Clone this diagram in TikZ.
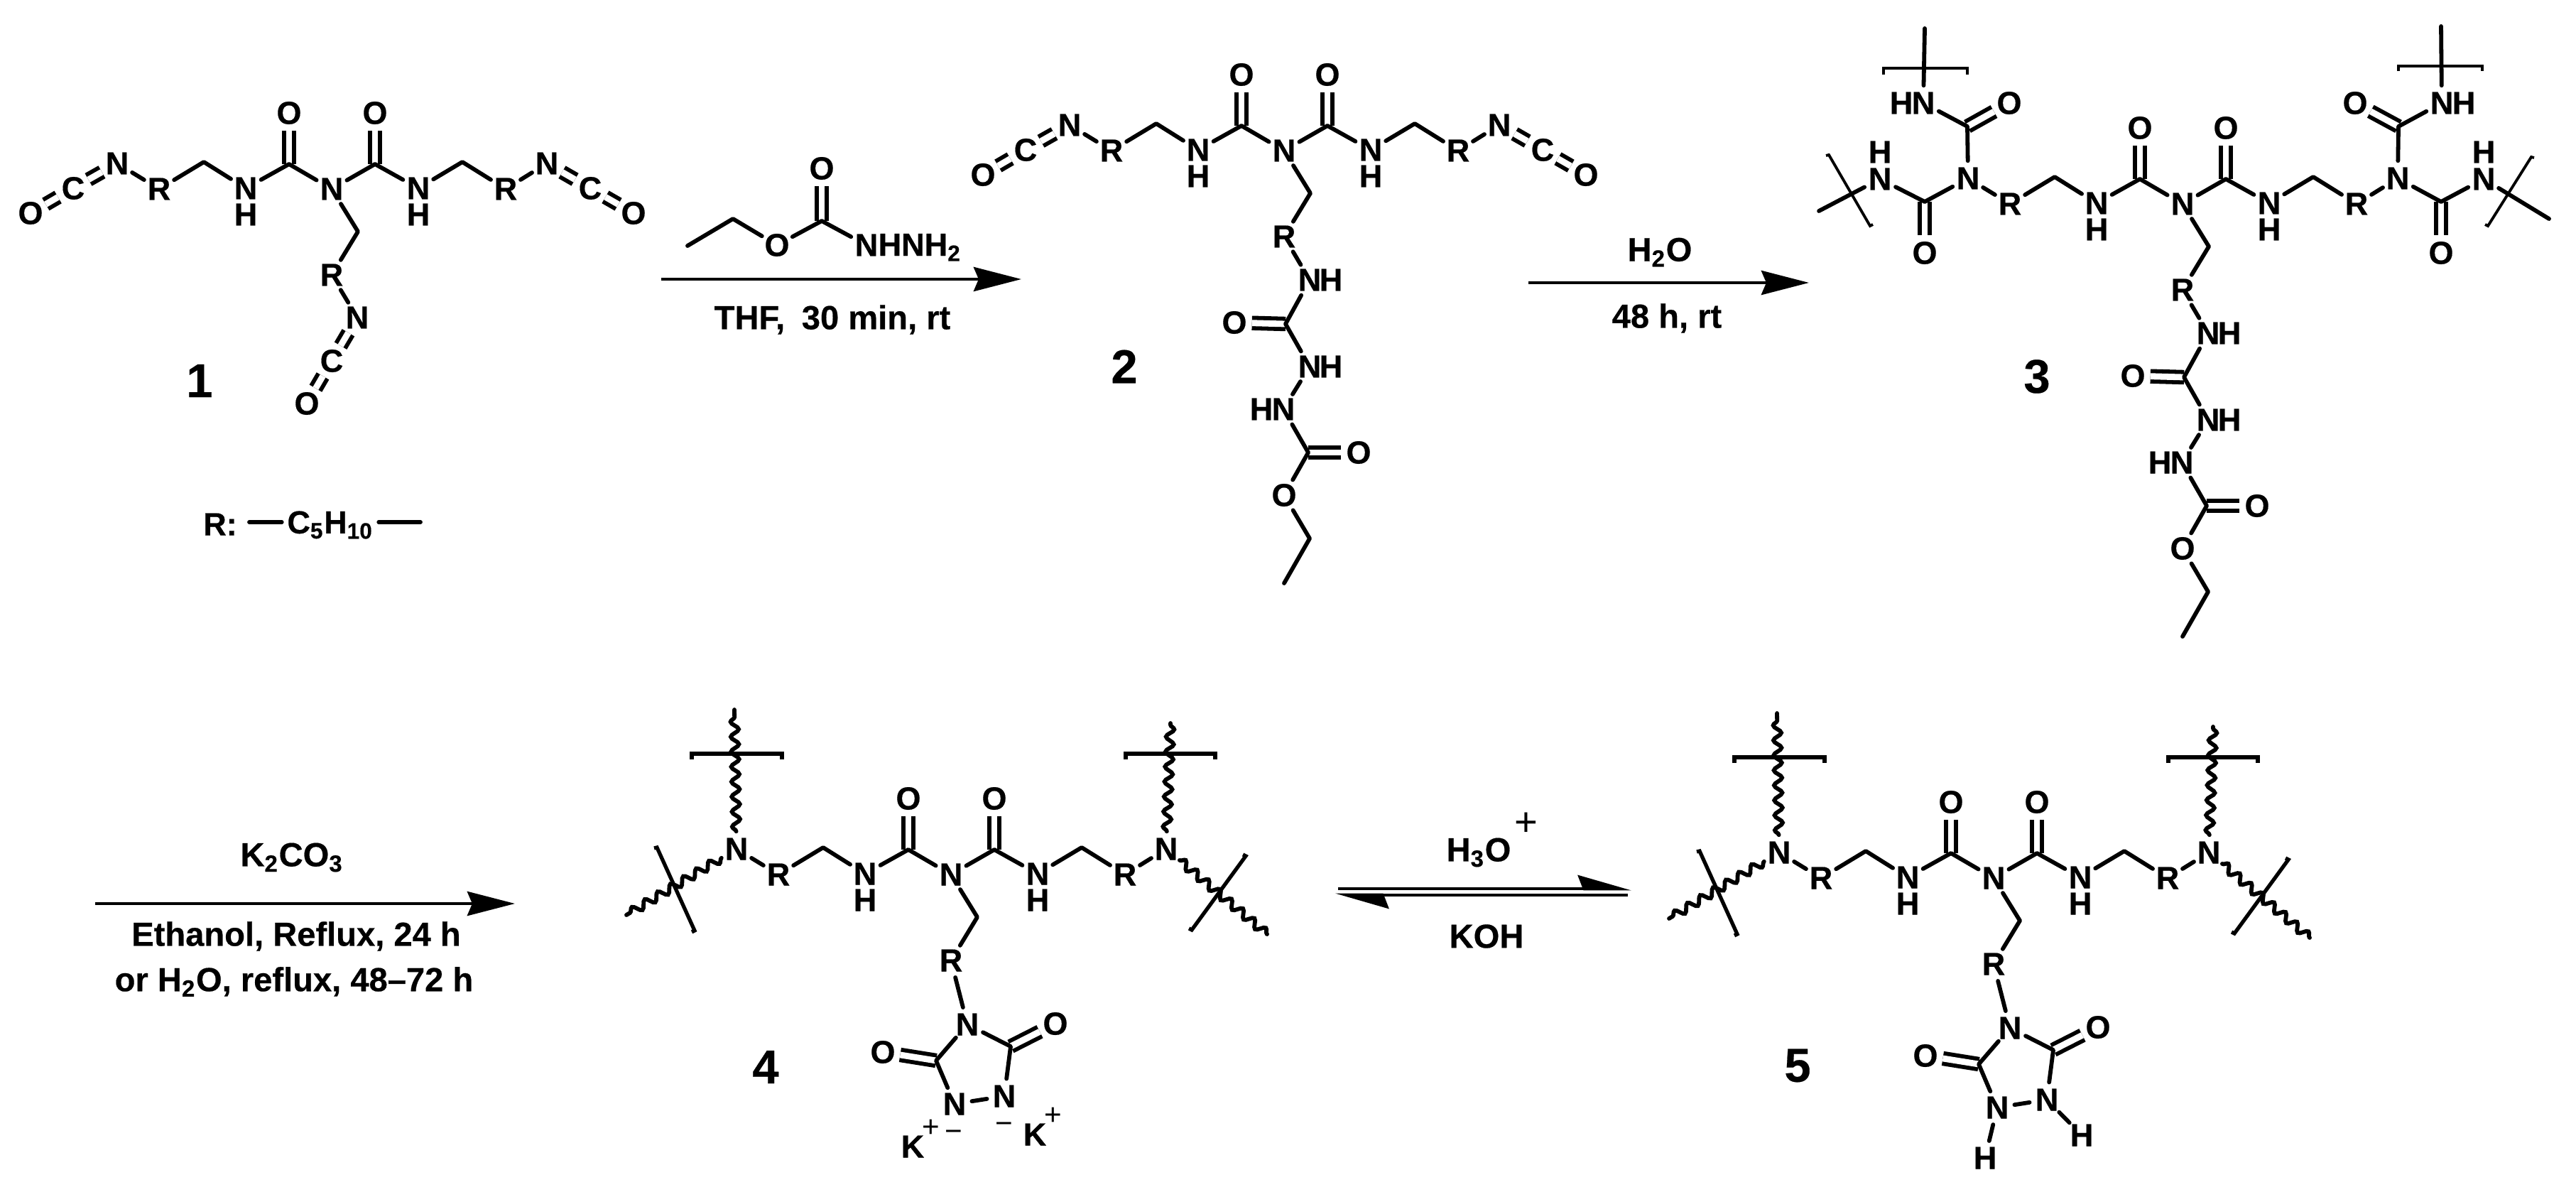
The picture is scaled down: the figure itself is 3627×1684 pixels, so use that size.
\documentclass[tikz,border=0pt]{standalone}
\usepackage{fontspec}
\usepackage{tikz}
\setmainfont{Liberation Sans}[BoldFeatures={FakeBold=0.4}]
\usetikzlibrary{positioning,arrows.meta,decorations.pathmorphing}

\tikzset{
  atom/.style={circle,inner sep=0pt,minimum size=0.48cm,font=\fontsize{12.8pt}{14pt}\selectfont\bfseries},
  bond/.style={line width=1.65pt,line cap=round,line join=round},
  dbond/.style={line width=1.65pt,double,double distance=2.5pt},
  wavy/.style={line width=1.65pt,line cap=round,decorate,decoration={snake,amplitude=1.6pt,segment length=6pt}},
  brk/.style={line width=1.5pt},
  thinbrk/.style={line width=1.1pt},
  reagent/.style={inner sep=0pt,font=\fontsize{13.4pt}{16pt}\selectfont\bfseries},
  cnum/.style={inner sep=0pt,font=\fontsize{19pt}{22pt}\selectfont\bfseries},
  chg/.style={inner sep=0pt,font=\fontsize{12pt}{14pt}\selectfont},
  rxn/.style={line width=1.35pt,-{Stealth[length=0.67cm,width=0.34cm,inset=0.07cm]}},
  eqm/.style={line width=1.35pt,-{Stealth[harpoon,length=0.67cm,width=0.38cm,inset=0.07cm]}}
}

% Central unit, shared by all five structures
\newcommand{\ureacore}[1]{
  \node[atom] (#1Nl) at (-302,-36) {N};
  \node[atom] (#1Rl) at (-243,0) {R};
  \coordinate (#1cl) at (-180,-38);
  \node[atom] (#1NHl) at (-121,-1) {N};
  \node[atom] (#1Hl) at (-121,36) {H};
  \coordinate (#1Cl) at (-60,-35);
  \node[atom] (#1Ol) at (-60,-107) {O};
  \node[atom] (#1N) at (0,0) {N};
  \coordinate (#1Cr) at (61,-35);
  \node[atom] (#1Or) at (61,-107) {O};
  \node[atom] (#1NHr) at (122,-1) {N};
  \node[atom] (#1Hr) at (122,36) {H};
  \coordinate (#1cr) at (184,-38);
  \node[atom] (#1Rr) at (245,0) {R};
  \node[atom] (#1Nr) at (303,-36) {N};
  \coordinate (#1cd) at (37,60);
  \node[atom] (#1Rd) at (0,121) {R};
  \draw[dbond] (#1Cl) -- (#1Ol);
  \draw[dbond] (#1Cr) -- (#1Or);
  \draw[bond] (#1Nl) -- (#1Rl) -- (#1cl) -- (#1NHl) -- (#1Cl) -- (#1N) -- (#1Cr) -- (#1NHr) -- (#1cr) -- (#1Rr) -- (#1Nr);
  \draw[bond] (#1N) -- (#1cd) -- (#1Rd);
}

% Isocyanate end: name, nitrogen, carbon position, oxygen position
\newcommand{\isocyanate}[4]{
  \node[atom] (#1C) at (#3) {C};
  \node[atom] (#1O) at (#4) {O};
  \draw[dbond] (#2) -- (#1C);
  \draw[dbond] (#1C) -- (#1O);
}

% Side chain of structures 2 and 3
\newcommand{\carbazate}[1]{
  \node[atom] (#1Na) at (36,182) {N};
  \node[atom] (#1Ha) at (66,182) {H};
  \coordinate (#1Ca) at (2,244);
  \node[atom] (#1Oa) at (-70,242) {O};
  \node[atom] (#1Nb) at (36,304) {N};
  \node[atom] (#1Hb) at (66,304) {H};
  \node[atom] (#1Nc) at (-1,364) {N};
  \node[atom] (#1Hc) at (-32,364) {H};
  \coordinate (#1Cb) at (34,425);
  \node[atom] (#1Ob) at (105,425) {O};
  \node[atom] (#1Oc) at (0,485) {O};
  \coordinate (#1ce) at (36,546);
  \coordinate (#1me) at (0,609);
  \draw[dbond] (#1Ca) -- (#1Oa);
  \draw[dbond] (#1Cb) -- (#1Ob);
  \draw[bond] (#1Rd) -- (#1Na) -- (#1Ca) -- (#1Nb) -- (#1Nc) -- (#1Cb) -- (#1Oc) -- (#1ce) -- (#1me);
}

% Ring of structures 4 and 5
\newcommand{\urazole}[1]{
  \node[atom] (#1Nt) at (23,211) {N};
  \coordinate (#1Cu) at (-21,262);
  \coordinate (#1Cv) at (84,242);
  \node[atom] (#1Ou) at (-96,250) {O};
  \node[atom] (#1Ov) at (147,210) {O};
  \node[atom] (#1Nu) at (5,323) {N};
  \node[atom] (#1Nv) at (75,312) {N};
  \draw[dbond] (#1Cu) -- (#1Ou);
  \draw[dbond] (#1Cv) -- (#1Ov);
  \draw[bond] (#1Rd) -- (#1Nt) -- (#1Cu) -- (#1Nu) -- (#1Nv) -- (#1Cv) -- (#1Nt);
}

% Wavy cross-links and brackets of structures 4 and 5
\newcommand{\wavyarms}[1]{
  \coordinate (#1wa) at (-305,-232);
  \coordinate (#1wb) at (-457,57);
  \coordinate (#1wc) at (309,-213);
  \coordinate (#1wd) at (445,84);
  \draw[wavy] (#1Nl) -- (#1wa);
  \draw[wavy] (#1Nl) -- (#1wb);
  \draw[wavy] (#1Nr) -- (#1wc);
  \draw[wavy] (#1Nr) -- (#1wd);
  \draw[brk] (-365,-162) -- (-365,-170) -- (-238,-170) -- (-238,-162);
  \draw[brk] (246,-162) -- (246,-170) -- (372,-170) -- (372,-162);
  \draw[brk] (-418,-37) -- (-414,-38) -- (-361,79) -- (-365,81);
  \draw[brk] (411,-28) -- (415,-26) -- (339,78) -- (335,76);
}

\begin{document}
\begin{tikzpicture}[x=0.01cm,y=-0.01cm]
    \useasboundingbox (0,0) rectangle (3627,1684);

    % Draw structure 1
    \begin{scope}[shift={(467,266)}]
        \ureacore{a}
        \isocyanate{al}{aNl}{-364,-1}{-424,34}
        \isocyanate{ar}{aNr}{364,-1}{425,34}
        \node[atom] (aNd) at (36,181) {N};
        \isocyanate{ad}{aNd}{0,242}{-35,302}
        \draw[bond] (aRd) -- (aNd);
    \end{scope}
    \node[cnum] (one) at (281,536) {1};

    % Draw R legend
    \node[atom] (rlabel) at (310,738) {R:};
    \node[atom,rectangle,inner sep=2pt] (rgroup) at (465,739) {C\textsubscript{5}H\textsubscript{10}};
    \coordinate (rleft) at (351,735);
    \coordinate (rright) at (592,735);
    \draw[bond] (rleft) -- (rleft -| rgroup.west);
    \draw[bond] (rright -| rgroup.east) -- (rright);

    % Draw ethyl carbazate over first arrow
    \coordinate (ema) at (968,346);
    \coordinate (emb) at (1032,308);
    \node[atom] (emo) at (1094,345) {O};
    \coordinate (emc) at (1157,311);
    \node[atom] (emd) at (1157,237) {O};
    \node[atom] (emn) at (1220,345) {N};
    \node[reagent,anchor=base west,font=\fontsize{12.8pt}{14pt}\selectfont\bfseries] (emh) at (1236,360) {HNH\textsubscript{2}};
    \draw[dbond] (emc) -- (emd);
    \draw[bond] (ema) -- (emb) -- (emo) -- (emc) -- (emn);

    % Draw first arrow
    \coordinate (aa) at (931,393);
    \coordinate (ab) at (1438,393);
    \draw[rxn] (aa) -- (ab);
    \node[reagent] (thf) at (1172,450) {THF,\kern3pt\ 30 min, rt};

    % Draw structure 2
    \begin{scope}[shift={(1808,212)}]
        \ureacore{b}
        \isocyanate{bl}{bNl}{-364,-1}{-424,34}
        \isocyanate{br}{bNr}{364,-1}{425,34}
        \carbazate{b}
    \end{scope}
    \node[cnum] (two) at (1583,516) {2};

    % Draw second arrow
    \coordinate (ba) at (2152,398);
    \coordinate (bb) at (2547,398);
    \draw[rxn] (ba) -- (bb);
    \node[reagent] (water) at (2337,355) {H\textsubscript{2}O};
    \node[reagent] (hours) at (2347,448) {48 h, rt};

    % Draw structure 3
    \begin{scope}[shift={(3073,287)}]
        \ureacore{c}
        \carbazate{c}
        % left arm
        \coordinate (cCa) at (-303,-109);
        \node[atom] (cOa) at (-244,-142) {O};
        \node[atom] (cNa) at (-365,-142) {N};
        \node[atom] (cHa) at (-396,-142) {H};
        \coordinate (cCd) at (-363,-3);
        \node[atom] (cOd) at (-363,69) {O};
        \node[atom] (cNf) at (-426,-35) {N};
        \node[atom] (cHf) at (-426,-73) {H};
        \coordinate (csa) at (-363,-247);
        \coordinate (csb) at (-512,10);
        \draw[dbond] (cCa) -- (cOa);
        \draw[dbond] (cCd) -- (cOd);
        \draw[bond] (csa) -- (cNa) -- (cCa) -- (cNl) -- (cCd) -- (cNf) -- (csb);
        \draw[thinbrk] (-421,-182) -- (-421,-191) -- (-303,-191) -- (-303,-182);
        \draw[thinbrk] (-502,-68) -- (-498,-69) -- (-440,31) -- (-436,29);
        % right arm
        \coordinate (cCb) at (304,-109);
        \node[atom] (cOe) at (243,-142) {O};
        \node[atom] (cNg) at (365,-142) {N};
        \node[atom] (cHg) at (396,-142) {H};
        \coordinate (cCe) at (364,-3);
        \node[atom] (cOf) at (364,69) {O};
        \node[atom] (cNh) at (424,-35) {N};
        \node[atom] (cHh) at (424,-73) {H};
        \coordinate (csc) at (364,-250);
        \coordinate (csd) at (516,21);
        \draw[dbond] (cCb) -- (cOe);
        \draw[dbond] (cCe) -- (cOf);
        \draw[bond] (csc) -- (cNg) -- (cCb) -- (cNr) -- (cCe) -- (cNh) -- (csd);
        \draw[thinbrk] (304,-187) -- (304,-194) -- (422,-194) -- (422,-187);
        \draw[thinbrk] (495,-65) -- (491,-66) -- (430,31) -- (426,29);
    \end{scope}
    \node[cnum] (three) at (2868,530) {3};

    % Draw third arrow
    \coordinate (ca) at (134,1272);
    \coordinate (cb) at (725,1272);
    \draw[rxn] (ca) -- (cb);
    \node[reagent] (base) at (411,1207) {K\textsubscript{2}CO\textsubscript{3}};
    \node[reagent] (ethanol) at (417,1318) {Ethanol, Reflux, 24 h};
    \node[reagent] (reflux) at (414,1382) {or H\textsubscript{2}O, reflux, 48--72 h};

    % Draw structure 4
    \begin{scope}[shift={(1339,1231)}]
        \ureacore{d}
        \wavyarms{d}
        \urazole{d}
        \node[atom] (dKa) at (-54,383) {K};
        \node[chg] (dpa) at (-28,357) {+};
        \node[chg] (dma) at (4,368) {−};
        \node[chg] (dmb) at (75,357) {−};
        \node[atom] (dKb) at (118,366) {K};
        \node[chg] (dpb) at (144,340) {+};
    \end{scope}
    \node[cnum] (four) at (1078,1502) {4};

    % Draw equilibrium arrows
    \coordinate (ea) at (1884,1251);
    \coordinate (eb) at (2297,1251);
    \coordinate (ec) at (2292,1260);
    \coordinate (ed) at (1880,1260);
    \draw[eqm] (ea) -- (eb);
    \draw[eqm] (ec) -- (ed);
    \node[reagent] (acid) at (2082,1200) {H\textsubscript{3}O};
    \node[chg,font=\fontsize{16pt}{18pt}\selectfont] (acidp) at (2149,1160) {+};
    \node[reagent] (koh) at (2093,1318) {KOH};

    % Draw structure 5
    \begin{scope}[shift={(2807,1236)}]
        \ureacore{e}
        \wavyarms{e}
        \urazole{e}
        \node[atom] (eHu) at (-12,394) {H};
        \node[atom] (eHv) at (124,362) {H};
        \draw[bond] (eNu) -- (eHu);
        \draw[bond] (eNv) -- (eHv);
    \end{scope}
    \node[cnum] (five) at (2531,1500) {5};
\end{tikzpicture}
\end{document}
